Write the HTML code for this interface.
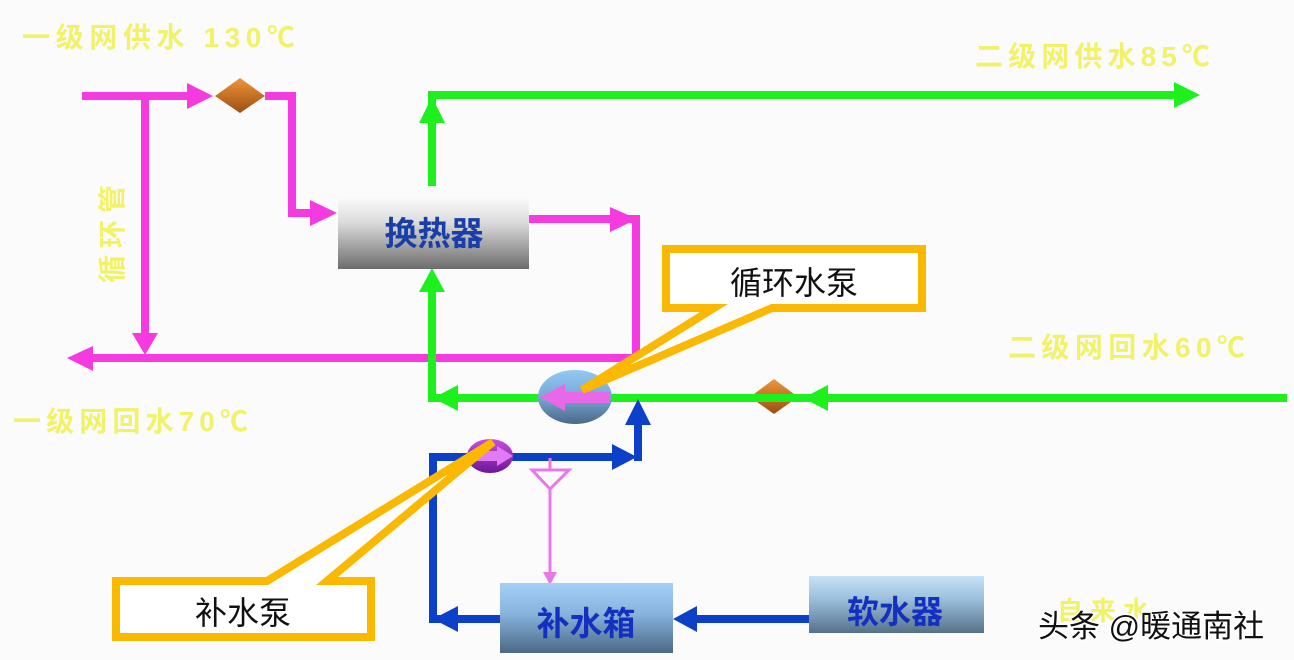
<!DOCTYPE html>
<html><head><meta charset="utf-8"><style>
html,body{margin:0;padding:0;background:#fbfbfb;}
svg{display:block;}
text{font-family:"Liberation Sans","Noto Sans CJK SC",sans-serif;}
</style></head><body>
<svg width="1294" height="660" viewBox="0 0 1294 660" xmlns="http://www.w3.org/2000/svg">
<defs>
<linearGradient id="hx" x1="0" y1="0" x2="0" y2="1">
<stop offset="0" stop-color="#fbfbfb"/><stop offset="0.35" stop-color="#dcdcdc"/><stop offset="1" stop-color="#6c6c6c"/>
</linearGradient>
<linearGradient id="tank" x1="0" y1="0" x2="0" y2="1">
<stop offset="0" stop-color="#a4cff7"/><stop offset="0.45" stop-color="#86b2dc"/><stop offset="1" stop-color="#4c6984"/>
</linearGradient>
<linearGradient id="soft" x1="0" y1="0" x2="0" y2="1">
<stop offset="0" stop-color="#c6e2f8"/><stop offset="0.4" stop-color="#9cc0dc"/><stop offset="1" stop-color="#56718a"/>
</linearGradient>
<linearGradient id="pump" x1="0" y1="0" x2="0" y2="1">
<stop offset="0" stop-color="#92c8f4"/><stop offset="0.5" stop-color="#78a8d4"/><stop offset="1" stop-color="#4a6888"/>
</linearGradient>
<linearGradient id="pump2" x1="0" y1="0" x2="0" y2="1">
<stop offset="0" stop-color="#c84ee0"/><stop offset="1" stop-color="#6a1898"/>
</linearGradient>
<linearGradient id="valve" x1="0" y1="0" x2="0" y2="1">
<stop offset="0" stop-color="#f0963a"/><stop offset="1" stop-color="#9a4e12"/>
</linearGradient>
</defs>

<!-- yellow labels -->
<g fill="#f2f26a" font-weight="bold" font-size="28">
<text x="22" y="47" textLength="273" lengthAdjust="spacing">一级网供水  130℃</text>
<text x="975" y="66" textLength="235" lengthAdjust="spacing">二级网供水85℃</text>
<text x="1008" y="357" textLength="237" lengthAdjust="spacing">二级网回水60℃</text>
<text x="13" y="431" textLength="235" lengthAdjust="spacing">一级网回水70℃</text>
<text x="112" y="244" font-size="28" text-anchor="middle" textLength="98" lengthAdjust="spacing" transform="rotate(-90 112 234)">循环管</text>
<text x="1057" y="620" font-size="26" textLength="92" lengthAdjust="spacing">自来水</text>
</g>

<!-- pink primary -->
<g stroke="#f53ae0" stroke-width="8" fill="none" stroke-linejoin="miter">
<path d="M82 96 H195"/>
<path d="M265 96 H292 V213 H316"/>
<path d="M145 96 V336"/>
<path d="M90 358 H636 V219 H614"/>
<path d="M529 219 H616"/>
</g>
<g fill="#f53ae0">
<polygon points="187,83 213,96 187,109"/>
<polygon points="310,200 337,213 310,226"/>
<polygon points="132,333 145,355 158,333"/>
<polygon points="93,346 67,358 93,371"/>
<polygon points="610,207 637,219 610,232"/>
</g>

<!-- valve diamonds -->
<polygon points="215,96 240,78 265,96 240,113" fill="url(#valve)"/>
<polygon points="750,397 774,379 798,397 774,414" fill="url(#valve)"/>

<!-- green secondary -->
<g stroke="#1ef01e" stroke-width="8" fill="none">
<path d="M432 186 V95 H1178"/>
<path d="M432 290 V398 H1287"/>
</g>
<g fill="#1ef01e">
<polygon points="419,123 432,97 445,123"/>
<polygon points="1174,82 1200,95 1174,108"/>
<polygon points="419,292 432,268 445,292"/>
<polygon points="458,385 433,398 458,411"/>
<polygon points="828,385 803,398 828,411"/>
</g>

<!-- heat exchanger -->
<rect x="338" y="197" width="191" height="72" fill="url(#hx)"/>
<text x="434" y="245" font-size="33" font-weight="bold" fill="#1a3ea8" text-anchor="middle">换热器</text>

<!-- blue makeup -->
<g stroke="#0c40c8" stroke-width="8" fill="none">
<path d="M614 457 H429"/>
<path d="M433 453 V619 H500"/>
<path d="M638 461 V422"/>
<path d="M697 619 H809"/>
</g>
<g fill="#0c40c8">
<polygon points="612,444 637,457 612,470"/>
<polygon points="625,425 638,399 651,425"/>
<polygon points="458,606 433,619 458,632"/>
<polygon points="697,606 673,619 697,632"/>
</g>
<rect x="429" y="453" width="8" height="8" fill="#0c40c8"/>
<rect x="634" y="453" width="8" height="8" fill="#0c40c8"/>

<!-- circulating pump -->
<ellipse cx="575" cy="397" rx="37" ry="27" fill="url(#pump)"/>
<polygon points="540,397 565,384 565,392 610,392 610,403 565,403 565,411" fill="#e868e8"/>

<!-- makeup pump -->
<ellipse cx="490" cy="456" rx="23" ry="17" fill="url(#pump2)"/>
<polygon points="513,456 497,446 497,451 475,451 475,461 497,461 497,466" fill="#e27af2"/>

<!-- filter triangle + line -->
<g stroke="#e878e8" stroke-width="3" fill="none">
<path d="M550 458 V470"/>
<polygon points="532,470 569,470 550,489"/>
<path d="M550 489 V575"/>
</g>
<polygon points="543,572 550,585 557,572" fill="#e878e8"/>

<!-- tanks -->
<rect x="500" y="583" width="173" height="70" fill="url(#tank)"/>
<text x="586" y="635" font-size="33" font-weight="bold" fill="#1430c0" text-anchor="middle">补水箱</text>
<rect x="809" y="576" width="175" height="57" fill="url(#soft)"/>
<text x="895" y="623" font-size="32" font-weight="bold" fill="#1430c0" text-anchor="middle">软水器</text>

<!-- callouts -->
<path d="M666 249 H922 V308 H772 L582 390 L714 308 H666 Z" fill="#ffffff" stroke="#fbb800" stroke-width="8" stroke-linejoin="miter" stroke-miterlimit="4"/>
<text x="794" y="294" font-size="32" fill="#111" text-anchor="middle">循环水泵</text>
<path d="M116 581 H267 L493 442 L327 581 H371 V637 H116 Z" fill="#ffffff" stroke="#fbb800" stroke-width="8" stroke-linejoin="miter" stroke-miterlimit="4"/>
<text x="243" y="624" font-size="32" fill="#111" text-anchor="middle">补水泵</text>

<!-- watermark -->
<text x="1038" y="637" font-size="31" fill="#111" stroke="#ffffff" stroke-width="3" paint-order="stroke">头条 @暖通南社</text>
</svg>
</body></html>
